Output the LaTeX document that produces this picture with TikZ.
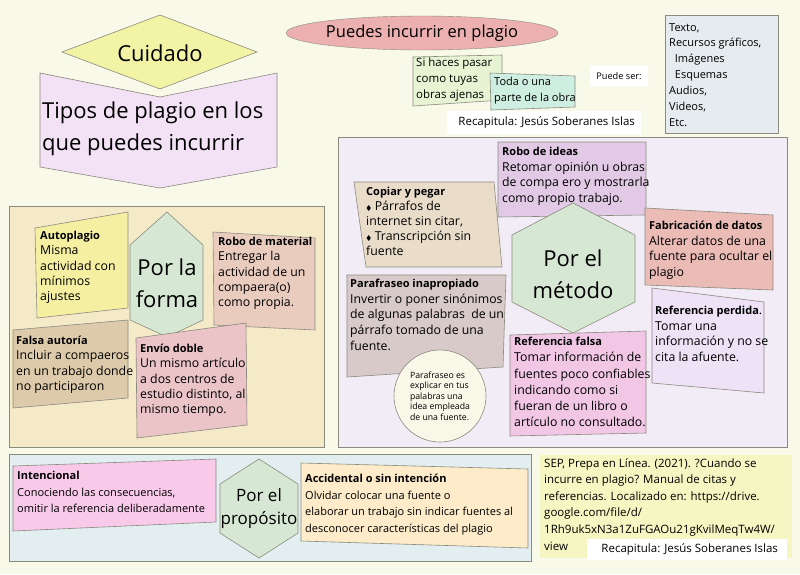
\documentclass[tikz,border=0pt]{standalone}
\usepackage{amssymb}
\usepackage{fontspec}
\setmainfont{Open Sans}
\usetikzlibrary{shapes.geometric}
\definecolor{Paper}{HTML}{F8F9E8}
\definecolor{Edge}{HTML}{8A8A7E}
\definecolor{CuidadoY}{HTML}{F3F3A6}
\definecolor{TiposP}{HTML}{F3E2F5}
\definecolor{PlagioR}{HTML}{EBB0AF}
\definecolor{NoteG}{HTML}{E6F4D3}
\definecolor{NoteT}{HTML}{CFEEE2}
\definecolor{ListB}{HTML}{E5EBEE}
\definecolor{FormaBg}{HTML}{F5EAC8}
\definecolor{HexG}{HTML}{D6E8D3}
\definecolor{AutoY}{HTML}{F5EFA2}
\definecolor{RoboM}{HTML}{EACCBF}
\definecolor{FalsaT}{HTML}{DDCAAA}
\definecolor{EnvioP}{HTML}{EBC4C7}
\definecolor{MetodoBg}{HTML}{F1ECF6}
\definecolor{RoboI}{HTML}{E2CAE6}
\definecolor{CopiarT}{HTML}{E9DDCA}
\definecolor{FabricR}{HTML}{EBBBB5}
\definecolor{ParafM}{HTML}{D9CACA}
\definecolor{CircleC}{HTML}{F8F7E8}
\definecolor{RefFP}{HTML}{F2C7E5}
\definecolor{RefPL}{HTML}{EEE2F6}
\definecolor{PropBg}{HTML}{E3EEF0}
\definecolor{IntenP}{HTML}{F9C9EA}
\definecolor{AcciO}{HTML}{FDEBC9}
\definecolor{SepY}{HTML}{F6F6C2}
\newcommand{\fsz}[2]{\fontsize{#1}{#2}\selectfont}
\newcommand{\ttl}[1]{{\fontsize{11}{\the\baselineskip}\selectfont\bfseries #1}}
\newcommand{\slantbox}[5]{\filldraw[box, fill=#1] #2 -- #3 -- #4 -- #5 -- cycle;}
\newcommand{\diam}{{\fsz{7}{7}$\blacklozenge$}\ }

\begin{document}
\begin{tikzpicture}[
  x=1pt, y=-1pt,
  box/.style={draw=Edge, line width=0.6pt},
  txt/.style={anchor=north west, align=left, inner sep=0pt, font=\fsz{12.3}{15.6}},
  small/.style={anchor=north west, align=left, inner sep=0pt, font=\fsz{11}{16.5}},
  big/.style={align=center, inner sep=0pt, font=\fsz{22}{32}},
  hexlabel/.style={align=center, inner sep=0pt, font=\fsz{22}{32}},
  white/.style={fill=white, inner sep=0pt, anchor=north west}
]
  \fill[Paper] (0,0) rectangle (800,574);
  \useasboundingbox (0,0) rectangle (800,574);

  % title blocks
  \filldraw[box, fill=TiposP] (40,73) -- (160,97) -- (277,73) -- (277,167) -- (160,188) -- (40,167) -- cycle;
  \node[big, anchor=north west, align=left] (tipos) at (42,102) {Tipos de plagio en los\\que puedes incurrir};
  \filldraw[box, fill=CuidadoY] (62,52) -- (160,15) -- (257,52) -- (160,89) -- cycle;
  \node[big] (cuidado) at (160,53) {Cuidado};

  \node[ellipse, draw=Edge, fill=PlagioR, minimum width=265pt, minimum height=34pt, inner sep=0pt, font=\fsz{16.5}{20}] (plagio) at (422,33) {Puedes incurrir en plagio};

  \slantbox{NoteG}{(413,57)}{(502,55)}{(502,100)}{(413,106)}
  \node[small, font=\fsz{11.5}{16}] (pasar) at (416,58) {Si haces pasar\\como tuyas\\obras ajenas};
  \slantbox{NoteT}{(490,73)}{(575,76)}{(575,107)}{(491,110)}
  \node[small, font=\fsz{11}{15.5}] (obra) at (494,77) {Toda o una\\parte de la obra};

  \node[white, minimum width=58pt, minimum height=20pt, anchor=center, font=\fsz{9.2}{10}] (puede) at (619,76) {Puede ser:};
  \node[white, minimum width=194pt, minimum height=23pt, anchor=west, font=\fsz{11.5}{14}] (recap1) at (447,122) {\hspace{5pt}Recapitula: Jesús Soberanes Islas};

  \filldraw[box, fill=ListB] (665,15) rectangle (778,133);
  \node[small, font=\fsz{11}{15.9}] (lista) at (669,23) {Texto,\\Recursos gráficos,\\\ \ Imágenes\\\ \ Esquemas\\Audios,\\Videos,\\Etc.};

  % por la forma
  \filldraw[box, fill=FormaBg] (9,206) rectangle (324,447);
  \filldraw[box, fill=HexG] (167,212) -- (203,245) -- (203,320) -- (167,337) -- (130,320) -- (130,245) -- cycle;
  \node[hexlabel] (forma) at (167,283) {Por la\\forma};
  \slantbox{AutoY}{(35,228)}{(128,212)}{(128,308)}{(37,318)}
  \node[txt, font=\fsz{12.3}{15.3}] (autoplagio) at (40,231) {\ttl{Autoplagio}\\Misma\\actividad con\\mínimos\\ajustes};
  \slantbox{RoboM}{(213,232)}{(315,238)}{(315,330)}{(214,325)}
  \node[txt, font=\fsz{12.3}{15.3}] (robomat) at (218,237) {\ttl{Robo de material}\\Entregar la\\actividad de un\\compaera(o)\\como propia.};
  \slantbox{FalsaT}{(13,330)}{(128,320)}{(128,398)}{(13,408)}
  \node[txt, font=\fsz{12.3}{15.3}] (falsa) at (16,336) {\ttl{Falsa autoría}\\Incluir a compaeros\\en un trabajo donde\\no participaron};
  \slantbox{EnvioP}{(136,338)}{(246,323)}{(247,425)}{(137,438)}
  \node[txt, font=\fsz{12.3}{15.3}] (envio) at (140,344) {\ttl{Envío doble}\\Un mismo artículo\\a dos centros de\\estudio distinto, al\\mismo tiempo.};

  % por el metodo
  \filldraw[box, fill=MetodoBg] (338,137) rectangle (787,447);
  \slantbox{RoboI}{(498,142)}{(646,142)}{(646,215)}{(498,217)}
  \filldraw[box, fill=HexG] (573,203) -- (635,235) -- (635,302) -- (573,333) -- (512,302) -- (512,235) -- cycle;
  \node[hexlabel] (metodo) at (573,274) {Por el\\método};
  \node[txt] (roboideas) at (502,147) {\ttl{Robo de ideas}\\Retomar opinión u obras\\de compa ero y mostrarla\\como propio trabajo.};
  \slantbox{CopiarT}{(354,182)}{(494,182)}{(502,267)}{(366,267)}
  \node[txt, font=\fsz{12.3}{15}] (copiar) at (366,187) {\ttl{Copiar y pegar}\\\diam Párrafos de\\internet sin citar,\\\diam Transcripción sin\\fuente};
  \slantbox{FabricR}{(645,208)}{(773,215)}{(773,290)}{(645,285)}
  \node[txt] (fabric) at (649,221) {\ttl{Fabricación de datos}\\Alterar datos de una\\fuente para ocultar el\\plagio};
  \slantbox{ParafM}{(347,275)}{(506,275)}{(503,367)}{(347,377)}
  \node[txt] (paraf) at (350,279) {\ttl{Parafraseo inapropiado}\\Invertir o poner sinónimos\\de algunas palabras\ \ de un\\párrafo tomado de una\\fuente.};
  \node[circle, draw=Edge, line width=0.6pt, fill=CircleC, minimum size=92pt, inner sep=0pt, align=left, font=\fsz{8.7}{10.6}] (parcirc) at (440,396) {Parafraseo es\\explicar en tus\\palabras una\\idea empleada\\de una fuente.};
  \slantbox{RefFP}{(510,335)}{(646,331)}{(646,433)}{(510,436)}
  \node[txt, font=\fsz{12.3}{16.2}] (reffalsa) at (514,337) {\ttl{Referencia falsa}\\Tomar información de\\fuentes poco confiables\\indicando como si\\fueran de un libro o\\artículo no consultado.};
  \slantbox{RefPL}{(652,288)}{(764,302)}{(764,393)}{(652,383)}
  \node[txt] (refperd) at (655,306) {\ttl{Referencia perdida}.\\Tomar una\\información y no se\\cita la afuente.};

  % por el proposito
  \filldraw[box, fill=PropBg] (9,454) rectangle (531,561);
  \slantbox{IntenP}{(13,466)}{(216,459)}{(216,522)}{(13,531)}
  \node[small] (inten) at (17,471) {\ttl{Intencional}\\Conociendo las consecuencias,\\omitir la referencia deliberadamente};
  \filldraw[box, fill=HexG] (259,459) -- (298,484) -- (298,533) -- (259,558) -- (220,533) -- (220,484) -- cycle;
  \node[hexlabel, font=\fsz{17}{23}] (proposito) at (259,509) {Por el\\propósito};
  \slantbox{AcciO}{(301,463)}{(528,469)}{(528,548)}{(301,541)}
  \node[small] (acci) at (305,474) {\ttl{Accidental o sin intención}\\Olvidar colocar una fuente o\\elaborar un trabajo sin indicar fuentes al\\desconocer características del plagio};

  % referencia
  \fill[SepY] (540,455) rectangle (792,558);
  \node[small, font=\fsz{11.5}{16.6}] (sep) at (544,458) {SEP, Prepa en Línea. (2021). ?Cuando se\\incurre en plagio? Manual de citas y\\referencias. Localizado en: https://drive.\\google.com/file/d/\\1Rh9uk5xN3a1ZuFGAOu21gKvilMeqTw4W/\\view};
  \node[white, minimum width=200pt, minimum height=21pt, anchor=west, font=\fsz{11.5}{14}] (recap2) at (587,549) {\hspace{5pt}Recapitula: Jesús Soberanes Islas};
\end{tikzpicture}
\end{document}
